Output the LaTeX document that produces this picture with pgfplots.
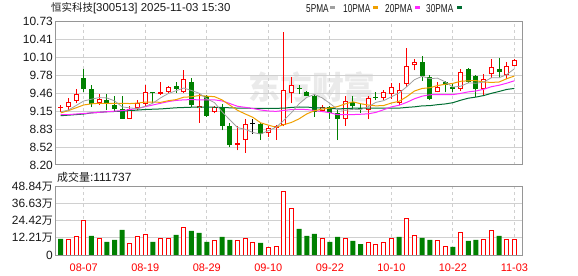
\documentclass[border=0pt]{standalone}
\usepackage{fontspec}
\setmainfont{Liberation Sans}
\newfontfamily\cjk{Noto Sans CJK SC}
\usepackage{graphicx}
\usepackage{pgfplots}
\usepackage{pgfplotstable}
\pgfplotsset{compat=1.18}
\definecolor{kred}{RGB}{255,0,0}
\definecolor{kgreen}{RGB}{0,128,0}
\definecolor{ma5}{RGB}{160,160,160}
\definecolor{ma10}{RGB}{240,160,0}
\definecolor{ma20}{RGB}{255,40,255}
\definecolor{ma30}{RGB}{0,110,50}
\definecolor{gridc}{RGB}{208,208,208}
\definecolor{framec}{RGB}{150,150,150}
\definecolor{wmark}{RGB}{234,234,234}
\definecolor{txt}{RGB}{25,25,25}

% red (close >= open) candles: index open high low close
\pgfplotstableread{
i o h l c
0 9.21 9.26 9.14 9.22
1 9.22 9.38 9.17 9.31
2 9.33 9.55 9.29 9.45
5 9.29 9.45 9.26 9.36
9 9.02 9.24 9.02 9.19
10 9.20 9.35 9.17 9.30
11 9.28 9.61 9.22 9.48
13 9.46 9.67 9.44 9.49
14 9.49 9.59 9.47 9.57
16 9.48 9.88 9.47 9.71
18 9.20 9.47 8.95 9.25
20 9.14 9.24 9.11 9.22
23 8.56 8.89 8.46 8.58
24 8.64 9.02 8.42 8.92
27 8.76 8.88 8.69 8.85
28 8.86 8.91 8.65 8.88
29 8.91 10.55 8.88 9.52
30 9.47 9.76 9.29 9.61
34 9.16 9.26 9.14 9.22
37 9.01 9.41 8.89 9.33
40 9.17 9.41 9.01 9.38
42 9.39 9.52 9.35 9.48
43 9.45 9.65 9.37 9.58
44 9.30 9.64 9.26 9.52
45 9.63 10.26 9.58 9.94
46 9.96 10.08 9.87 10.01
49 9.48 9.67 9.48 9.57
52 9.55 9.89 9.51 9.85
55 9.54 9.81 9.41 9.71
56 9.80 10.07 9.73 9.93
58 9.79 10.01 9.71 9.95
59 9.95 10.08 9.95 10.05
}\redk
% green (close < open) candles
\pgfplotstableread{
i o h l c
3 9.73 9.89 9.49 9.55
4 9.55 9.61 9.22 9.28
6 9.35 9.45 9.17 9.28
7 9.26 9.41 9.14 9.19
8 9.19 9.41 9.02 9.02
12 9.48 9.49 9.29 9.47
15 9.59 9.67 9.47 9.55
17 9.67 9.73 9.23 9.26
19 9.41 9.44 9.05 9.07
21 9.22 9.28 8.81 8.89
22 8.89 8.94 8.51 8.55
26 8.92 8.94 8.65 8.75
31 9.56 9.61 9.45 9.54
32 9.49 9.51 9.41 9.42
33 9.41 9.44 9.05 9.14
35 9.22 9.24 9.01 9.12
36 9.12 9.18 8.65 9.01
38 9.32 9.41 9.17 9.24
39 9.20 9.29 9.12 9.19
41 9.40 9.48 9.34 9.39
47 10.02 10.12 9.69 9.78
48 9.75 9.79 9.34 9.37
50 9.67 9.68 9.48 9.61
51 9.57 9.63 9.49 9.55
53 9.89 9.91 9.64 9.67
54 9.77 9.79 9.40 9.54
57 9.89 10.09 9.73 9.85
}\greenk
% doji (open = close)
\pgfplotstableread{
i o h l c
25 8.93 9.02 8.75 8.93
}\blackk
% moving averages
\pgfplotstableread{
i m5 m10 m20 m30
0 9.14 9.12 9.09 9.07
1 9.17 9.16 9.09 9.08
2 9.25 9.21 9.10 9.09
3 9.33 9.26 9.11 9.10
4 9.362 9.28 9.12 9.12
5 9.39 9.29 9.13 9.13
6 9.384 9.29 9.14 9.14
7 9.332 9.29 9.15 9.145
8 9.226 9.29 9.16 9.15
9 9.208 9.285 9.18 9.16
10 9.196 9.293 9.20 9.17
11 9.236 9.31 9.23 9.18
12 9.292 9.312 9.26 9.185
13 9.386 9.306 9.29 9.19
14 9.462 9.335 9.32 9.20
15 9.512 9.354 9.34 9.21
16 9.558 9.397 9.35 9.215
17 9.516 9.404 9.355 9.22
18 9.468 9.427 9.35 9.22
19 9.368 9.415 9.35 9.22
20 9.302 9.407 9.35 9.22
21 9.138 9.348 9.33 9.215
22 8.996 9.256 9.285 9.21
23 8.860 9.165 9.236 9.205
24 8.830 9.101 9.218 9.205
25 8.774 9.041 9.197 9.20
26 8.746 8.945 9.171 9.20
27 8.806 8.904 9.154 9.20
28 8.866 8.866 9.147 9.20
29 8.986 8.912 9.163 9.204
30 9.122 8.951 9.179 9.217
31 9.280 9.015 9.182 9.224
32 9.394 9.102 9.179 9.223
33 9.446 9.158 9.162 9.210
34 9.386 9.186 9.144 9.208
35 9.288 9.206 9.123 9.200
36 9.182 9.231 9.088 9.191
37 9.164 9.279 9.091 9.195
38 9.184 9.315 9.090 9.203
39 9.178 9.282 9.096 9.203
40 9.230 9.259 9.104 9.205
41 9.306 9.244 9.129 9.202
42 9.336 9.250 9.176 9.203
43 9.404 9.294 9.226 9.206
44 9.470 9.324 9.255 9.204
45 9.582 9.406 9.306 9.217
46 9.706 9.506 9.369 9.227
47 9.766 9.551 9.415 9.244
48 9.724 9.564 9.440 9.248
49 9.734 9.602 9.442 9.265
50 9.668 9.625 9.442 9.278
51 9.576 9.641 9.443 9.300
52 9.590 9.678 9.464 9.343
53 9.650 9.687 9.491 9.379
54 9.644 9.689 9.507 9.399
55 9.664 9.666 9.536 9.426
56 9.740 9.658 9.582 9.465
57 9.740 9.665 9.608 9.498
58 9.796 9.723 9.644 9.534
59 9.898 9.771 9.687 9.552
}\matbl
% volume (10k shares), coloured by close vs previous close
\pgfplotstableread{
i v
1 10.67
2 13.28
3 24.66
5 11.86
9 8.30
10 13.28
11 14.70
13 11.86
14 11.86
16 19.68
20 10.43
23 10.43
24 11.86
25 9.01
27 5.45
28 6.16
29 45.29
30 33.19
34 11.86
37 11.86
40 9.01
41 7.59
42 9.01
43 11.86
45 26.08
46 13.99
49 9.96
50 6.16
52 15.65
55 11.14
56 17.07
58 11.14
59 11.17
}\redv
\pgfplotstableread{
i v
0 11.38
4 13.51
6 9.25
7 10.67
8 17.78
12 9.25
15 14.23
17 17.07
18 15.65
19 9.25
21 12.80
22 10.67
26 8.54
31 18.49
32 13.51
33 14.94
35 9.25
36 12.80
38 9.96
39 7.82
44 12.80
47 12.09
48 10.67
51 5.69
53 9.96
54 10.67
57 13.51
}\greenv

\pgfplotsset{
  kaxis/.style={
    scale only axis, width=467bp,
    xmin=-0.74, xmax=59.99,
    axis line style={draw=framec, line width=1bp},
    major tick length=0pt,
    xmajorgrids, ymajorgrids,
    x grid style={gridc, dash pattern=on 3bp off 3bp, line width=1bp},
    y grid style={gridc, line width=1bp},
    xtick={3,11,19,27,35,43,51,59},
    yticklabel style={font=\fontsize{12}{14}\selectfont, text=txt, anchor=east, inner sep=0pt, xshift=-2bp},
  },
  wick/.style={draw=none, error bars/.cd, y dir=plus, y explicit, error mark=none,
    error bar style={draw=#1, line width=1bp}},
  body/.style 2 args={draw=none, error bars/.cd, y dir=plus, y explicit, error mark=none,
    error bar style={draw=#1, line width=#2}},
}

\begin{document}
\begin{tikzpicture}
\path[use as bounding box] (0,0) rectangle (578bp,276bp);
% watermark
\node[text=wmark, font=\cjk\bfseries\fontsize{32}{34}\selectfont, anchor=center] at (312bp,189bp) {东方财富};

% price panel
\begin{axis}[kaxis, at={(55bp,111bp)}, anchor=south west, height=143.3bp,
  ymin=8.20, ymax=10.73,
  ytick={8.20,8.51625,8.8325,9.14875,9.465,9.78125,10.0975,10.41375,10.73},
  yticklabels={\mbox{8.20},\mbox{8.52},\mbox{8.83},\mbox{9.15},\mbox{9.46},\mbox{9.78},\mbox{10.10},\mbox{10.41},\mbox{10.73}},
  xticklabels={},
]
% wicks
\addplot[wick=kred] table[x=i, y=l, y error expr=\thisrow{h}-\thisrow{l}] {\redk};
\addplot[wick=kgreen] table[x=i, y=l, y error expr=\thisrow{h}-\thisrow{l}] {\greenk};
\addplot[wick=black] table[x=i, y=l, y error expr=\thisrow{h}-\thisrow{l}] {\blackk};
% bodies
\addplot[body={kred}{5bp}] table[x=i, y=o, y error expr={max(\thisrow{c}-\thisrow{o},0.018)}] {\redk};
\addplot[body={white}{3bp}] table[x=i, y expr=\thisrow{o}+0.0177, y error expr={max(\thisrow{c}-\thisrow{o}-0.0353,0)}] {\redk};
\addplot[body={kgreen}{5bp}] table[x=i, y=c, y error expr={max(\thisrow{o}-\thisrow{c},0.018)}] {\greenk};
\addplot[body={black}{5bp}] table[x=i, y=c, y error expr={0.018}] {\blackk};
% moving averages
\addplot[ma30, line width=1bp] table[x=i, y=m30] {\matbl};
\addplot[ma20, line width=1bp] table[x=i, y=m20] {\matbl};
\addplot[ma10, line width=1bp] table[x=i, y=m10] {\matbl};
\addplot[ma5, line width=0.8bp] table[x=i, y=m5] {\matbl};
\end{axis}

% volume panel
\begin{axis}[kaxis, at={(55bp,21bp)}, anchor=south west, height=68.7bp,
  ymin=0, ymax=48.84,
  ytick={0,12.21,24.42,36.63,48.84},
  yticklabels={\mbox{0},\mbox{12.21{\cjk\fontsize{11}{13}\selectfont 万}},\mbox{24.42{\cjk\fontsize{11}{13}\selectfont 万}},\mbox{36.63{\cjk\fontsize{11}{13}\selectfont 万}},\mbox{48.84{\cjk\fontsize{11}{13}\selectfont 万}}},
  xticklabels={\mbox{08-07},\mbox{08-19},\mbox{08-29},\mbox{09-10},\mbox{09-22},\mbox{10-10},\mbox{10-22},\mbox{11-03}},
  xticklabel style={font=\fontsize{11}{13}\selectfont, text=kred, anchor=center, yshift=-13bp},
]
\addplot[ybar, bar shift=0pt, bar width=5bp, fill=kgreen, draw=none] table[x=i, y=v] {\greenv};
\addplot[ybar, bar shift=0pt, bar width=4bp, fill=white, draw=kred, line width=1bp] table[x=i, y=v] {\redv};
\end{axis}

% header
\node[anchor=west, inner sep=0pt, text=txt] at (51bp,267.5bp)
  {{\cjk\fontsize{10.5}{12}\selectfont 恒实科技}{\fontsize{11.5}{13}\selectfont [300513] 2025-11-03 15:30}};
\newcommand{\leg}[1]{\scalebox{0.72}[1]{\fontsize{11.5}{12}\selectfont #1}}
\node[anchor=west, inner sep=0pt, text=txt] at (306bp,267.5bp) {\leg{5PMA}};
\fill[ma5] (330bp,266.5bp) rectangle (335bp,269.5bp);
\node[anchor=west, inner sep=0pt, text=txt] at (343bp,267.5bp) {\leg{10PMA}};
\fill[ma10] (373bp,266.5bp) rectangle (378bp,269.5bp);
\node[anchor=west, inner sep=0pt, text=txt] at (385bp,267.5bp) {\leg{20PMA}};
\fill[ma20] (415bp,266.5bp) rectangle (420bp,269.5bp);
\node[anchor=west, inner sep=0pt, text=txt] at (426bp,267.5bp) {\leg{30PMA}};
\fill[ma30] (457bp,266.5bp) rectangle (462bp,269.5bp);
% volume title
\node[anchor=west, inner sep=0pt, text=txt] at (57bp,98.7bp)
  {{\cjk\fontsize{11}{13}\selectfont 成交量}{\fontsize{12}{14}\selectfont :111737}};
\end{tikzpicture}
\end{document}
